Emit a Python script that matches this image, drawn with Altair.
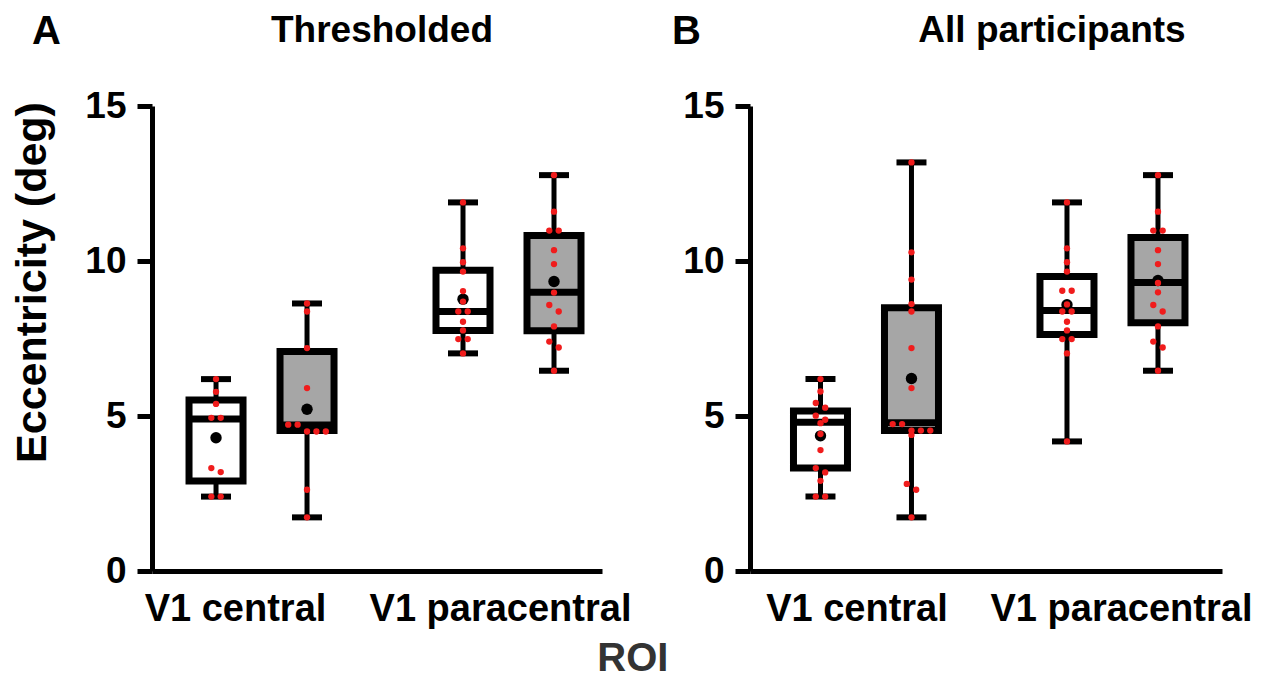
import altair as alt
import pandas as pd

# ---------------- data ----------------
ROI = ["V1 central", "V1 central", "V1 paracentral", "V1 paracentral"]
GROUP = ["open", "filled", "open", "filled"]

# Panel A  (Thresholded)
A_MIN = [2.40, 1.73, 7.02, 6.46]
A_Q1 = [2.90, 4.53, 7.76, 7.75]
A_MED = [4.90, 4.71, 8.37, 8.99]
A_Q3 = [5.52, 7.08, 9.70, 10.82]
A_MAX = [6.19, 8.63, 11.89, 12.77]
A_MEAN = [4.30, 5.22, 8.77, 9.34]
A_PTS_CENTRAL_OPEN = [6.19, 5.78, 5.39, 4.94, 4.94, 3.32, 3.19, 2.40, 2.40]
A_PTS_CENTRAL_FILLED = [8.63, 8.37, 7.19, 5.90, 4.72, 4.72, 4.50, 4.50, 4.50, 2.62, 1.73]
A_PTS_PARA_OPEN = [11.89, 10.41, 9.96, 9.66, 9.03, 8.69, 8.37, 8.37, 8.04, 7.76, 7.48, 7.48, 7.02]
A_PTS_PARA_FILLED = [12.77, 11.59, 10.98, 10.98, 10.35, 9.90, 8.98, 8.58, 8.37, 7.89, 7.40, 7.21, 6.46]

# Panel B  (All participants)
B_MIN = [2.40, 1.73, 4.18, 6.46]
B_Q1 = [3.32, 4.53, 7.63, 8.01]
B_MED = [4.80, 4.78, 8.40, 9.31]
B_Q3 = [5.16, 8.49, 9.50, 10.76]
B_MAX = [6.19, 13.18, 11.89, 12.77]
B_MEAN = [4.36, 6.21, 8.59, 9.37]
B_PTS_CENTRAL_OPEN = [6.19, 5.79, 5.42, 5.27, 5.01, 4.88, 4.77, 4.42, 3.90, 3.32, 3.18, 2.91, 2.40, 2.40]
B_PTS_CENTRAL_FILLED = [13.18, 10.28, 9.40, 8.61, 8.37, 7.19, 5.90, 4.74, 4.74, 4.53, 4.53, 4.53, 4.39, 2.81, 2.62, 1.73]
B_PTS_PARA_OPEN = [11.89, 10.41, 9.96, 9.66, 9.04, 9.04, 8.60, 8.37, 8.37, 8.04, 7.76, 7.48, 7.48, 7.02, 4.18]
B_PTS_PARA_FILLED = [12.77, 11.59, 10.98, 10.98, 10.35, 9.90, 9.29, 8.99, 8.58, 8.37, 7.89, 7.40, 7.21, 6.46]

Y_TICKS = [0, 5, 10, 15]

# ---------------- styling ----------------
FONT = "Liberation Sans"
GRAY = "#a6a6a6"
RED = "#f01c1c"
GROUP_OFFSET = {"open": -45.5, "filled": 45.5}
GROUP_FILL = {"open": "white", "filled": GRAY}
JITTER_PX = 9.4
TIE_THR = 0.22


def stats_frame(mins, q1s, meds, q3s, maxs, means):
    return pd.DataFrame({"roi": ROI, "grp": GROUP, "lo": mins, "q1": q1s,
                         "med": meds, "q3": q3s, "hi": maxs, "mean": means})


def points_frame(lists):
    rows = []
    for roi, grp, vals in zip(ROI, GROUP, lists):
        clusters = []
        for v in sorted(vals, reverse=True):
            if clusters and clusters[-1][0] - v < TIE_THR:
                clusters[-1].append(v)
            else:
                clusters.append([v])
        for c in clusters:
            k = len(c)
            for i, v in enumerate(c):
                rows.append({"roi": roi, "grp": grp, "val": v, "slot": i - (k - 1) / 2})
    return pd.DataFrame(rows)


def panel(sdf, pdf, title, title_x, letter, letter_x, width, pad_outer, align, ytitle,
          off_central, off_para):
    height = 465
    xs = alt.Scale(domain=["V1 central", "V1 paracentral"], paddingInner=0.3,
                   paddingOuter=pad_outer, align=align)
    ys = alt.Scale(domain=[0, 15], nice=False, zero=True)
    xaxis = alt.Axis(labelAngle=0, labelFont=FONT, labelFontSize=38, labelFontWeight="bold",
                     labelColor="black", labelPadding=19, ticks=False, domainColor="black",
                     domainWidth=5, grid=False, labelFlush=False, labelOverlap=False,
                     labelLimit=0,
                     labelOffset={"condition": {"test": "datum.value == 'V1 central'",
                                                "value": off_central},
                                  "value": off_para})
    yaxis = alt.Axis(values=Y_TICKS, labelFont=FONT, labelFontSize=37, labelFontWeight="bold",
                     labelColor="black", labelPadding=11, tickSize=15, tickWidth=5,
                     tickColor="black", domainColor="black", domainWidth=5, grid=False,
                     titleFont=FONT, titleFontSize=43, titleFontWeight="bold",
                     titleColor="black", titlePadding=30, titleY=176)

    def X():
        return alt.X("roi:N", scale=xs, axis=xaxis, title=None)

    def Y(field):
        return alt.Y(field, scale=ys, axis=yaxis, title=ytitle)

    layers = []
    sbase = alt.Chart(sdf)
    pbase = alt.Chart(pdf)
    for grp in ["open", "filled"]:
        off = GROUP_OFFSET[grp]
        flt = alt.datum.grp == grp
        s = sbase.transform_filter(flt)
        layers.append(s.mark_rule(xOffset=off, strokeWidth=5, color="black")
                      .encode(x=X(), y=Y("lo:Q"), y2="hi:Q"))
        layers.append(s.mark_tick(xOffset=off, size=30, thickness=6, color="black", opacity=1)
                      .encode(x=X(), y=Y("lo:Q")))
        layers.append(s.mark_tick(xOffset=off, size=30, thickness=6, color="black", opacity=1)
                      .encode(x=X(), y=Y("hi:Q")))
        layers.append(s.mark_bar(xOffset=off, size=54, fill=GROUP_FILL[grp], stroke="black",
                                 strokeWidth=7, opacity=1)
                      .encode(x=X(), y=Y("q1:Q"), y2="q3:Q"))
        layers.append(s.mark_tick(xOffset=off, size=54, thickness=7, color="black", opacity=1)
                      .encode(x=X(), y=Y("med:Q")))
        layers.append(s.mark_circle(xOffset=off, size=130, color="black", opacity=1)
                      .encode(x=X(), y=Y("mean:Q")))
    for grp in ["open", "filled"]:
        sub = pdf[pdf["grp"] == grp]
        for slot in sorted(sub["slot"].unique()):
            off = GROUP_OFFSET[grp] + slot * JITTER_PX
            flt = (alt.datum.grp == grp) & (alt.datum.slot == float(slot))
            layers.append(pbase.transform_filter(flt)
                          .mark_circle(xOffset=off, size=40, color=RED, opacity=1)
                          .encode(x=X(), y=Y("val:Q")))

    txt = pd.DataFrame({"t": [letter], "u": [title]})
    layers.append(alt.Chart(txt).mark_text(font=FONT, fontSize=40, fontWeight="bold",
                                           align="left", baseline="top", color="black")
                  .encode(text="t:N", x=alt.value(letter_x), y=alt.value(-94)))
    layers.append(alt.Chart(txt).mark_text(font=FONT, fontSize=37, fontWeight="bold",
                                           align="center", baseline="top", color="black")
                  .encode(text="u:N", x=alt.value(title_x), y=alt.value(-93)))
    return alt.layer(*layers).properties(width=width, height=height)


pa = panel(stats_frame(A_MIN, A_Q1, A_MED, A_Q3, A_MAX, A_MEAN),
           points_frame([A_PTS_CENTRAL_OPEN, A_PTS_CENTRAL_FILLED, A_PTS_PARA_OPEN, A_PTS_PARA_FILLED]),
           "Thresholded", 230, "A", -120, 450, 0.061, 0.766, "Eccentricity (deg)", -26, -8)
pb = panel(stats_frame(B_MIN, B_Q1, B_MED, B_Q3, B_MAX, B_MEAN),
           points_frame([B_PTS_CENTRAL_OPEN, B_PTS_CENTRAL_FILLED, B_PTS_PARA_OPEN, B_PTS_PARA_FILLED]),
           "All participants", 302, "B", -78, 472, 0.1074, 0.561, None, -9, 9)

chart = alt.hconcat(pa, pb, spacing=148, bounds="flush").properties(
    title=alt.TitleParams("ROI", orient="bottom", anchor="middle", font=FONT, fontSize=40,
                          fontWeight="bold", color="#333333", offset=11, dx=1),
    padding={"left": 3, "top": 4, "right": 5, "bottom": 0},
    background="white",
).configure_view(stroke=None, strokeWidth=0)

chart.save("out.html", embed_options={"renderer": "svg", "actions": False})
